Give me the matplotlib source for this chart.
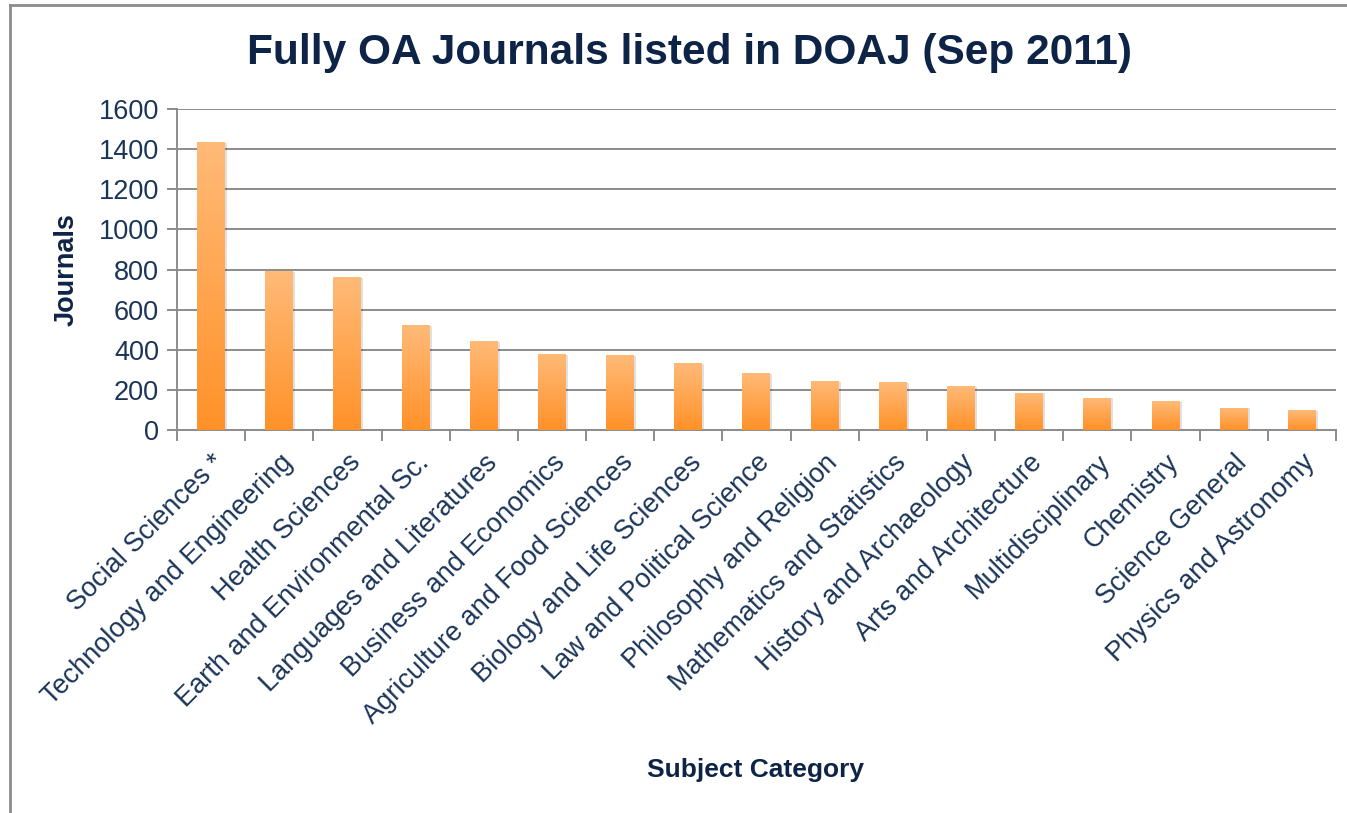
import numpy as np
import matplotlib.pyplot as plt
from matplotlib.patches import Rectangle
from matplotlib.lines import Line2D

categories = ['Social Sciences *', 'Technology and Engineering', 'Health Sciences',
              'Earth and Environmental Sc.', 'Languages and Literatures',
              'Business and Economics', 'Agriculture and Food Sciences',
              'Biology and Life Sciences', 'Law and Political Science',
              'Philosophy and Religion', 'Mathematics and Statistics',
              'History and Archaeology', 'Arts and Architecture',
              'Multidisciplinary', 'Chemistry', 'Science General',
              'Physics and Astronomy']
journals = [1435, 792, 762, 522, 445, 380, 373, 335, 285, 245, 238, 219, 187, 162, 143, 112, 98]
yticks = [0, 200, 400, 600, 800, 1000, 1200, 1400, 1600]

navy = '#1B3558'
dark = '#0E2446'
plt.rcParams['font.family'] = ['Liberation Sans', 'DejaVu Sans']

fig = plt.figure(figsize=(13.47, 8.13), dpi=100)
ax = fig.add_axes([0.1314, 0.471, 0.8604, 0.395])

x = np.arange(len(categories))
w = 0.41
bars = ax.bar(x, journals, width=w, color='none', edgecolor='none', zorder=3)

# vertical gradient: light at top, darker orange at bottom
grad = np.linspace(0, 1, 256)[:, None, None]
top = np.array([1.0, 0.73, 0.47])
bot = np.array([1.0, 0.57, 0.16])
img = top * (1 - grad) + bot * grad
for b in bars:
    x0, y0 = b.get_x(), b.get_y()
    h = b.get_height()
    # soft shadow
    ax.add_patch(Rectangle((x0 + 0.03, y0), w, h - 4, facecolor='#000000',
                           alpha=0.12, edgecolor='none', zorder=2))
    im = ax.imshow(img, extent=(x0, x0 + w, y0, y0 + h), aspect='auto',
                   origin='upper', zorder=3)
    im.set_clip_path(b)

ax.set_xlim(-0.5, len(categories) - 0.5)
ax.set_ylim(0, 1600)
ax.set_yticks(yticks)
ax.yaxis.grid(True, color='#8c8c8c', linewidth=1.4, zorder=0)
ax.set_axisbelow(True)

for s in ['top', 'right']:
    ax.spines[s].set_visible(False)
for s in ['left', 'bottom']:
    ax.spines[s].set_color('#8c8c8c')
    ax.spines[s].set_linewidth(1.4)

ax.set_xticks(x)
ax.set_xticklabels(categories, rotation=45, ha='right', rotation_mode='anchor',
                   fontsize=19.5, color=navy)
ax.set_xticks(np.arange(-0.5, len(categories)), minor=True)
ax.tick_params(axis='x', which='major', length=0, pad=14)
ax.tick_params(axis='x', which='minor', length=8, width=1.4, color='#8c8c8c')
ax.tick_params(axis='y', length=7, width=1.4, color='#8c8c8c', labelsize=19.5,
               labelcolor=navy, pad=6)

ax.set_ylabel('Journals', fontsize=19.5, fontweight='bold', color=dark, labelpad=14)
fig.text(0.561, 0.053, 'Subject Category', fontsize=19, fontweight='bold',
         color=dark, ha='center', va='center')
fig.text(0.512, 0.935, 'Fully OA Journals listed in DOAJ (Sep 2011)', fontsize=30.5,
         fontweight='bold', color=dark, ha='center', va='center')

# chart-area border (left and top only visible)
fig.add_artist(Line2D([10 / 1347, 10 / 1347], [0, 1 - 5 / 813],
                      transform=fig.transFigure, color='#8c8c8c', lw=2))
fig.add_artist(Line2D([10 / 1347, 1], [1 - 5 / 813, 1 - 5 / 813],
                      transform=fig.transFigure, color='#8c8c8c', lw=2))

fig.savefig('out.png', dpi=100)
